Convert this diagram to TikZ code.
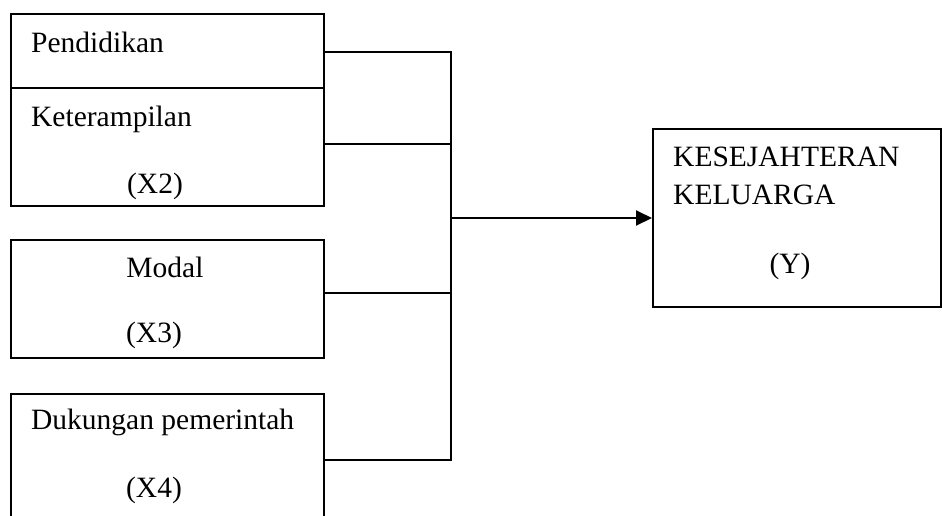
\documentclass[tikz,border=0pt]{standalone}
\usepackage{fontspec}
\setmainfont{Liberation Serif}
\usetikzlibrary{arrows.meta}
\begin{document}
\begin{tikzpicture}[x=1pt,y=-1pt,
  box/.style={draw, line width=2pt, rectangle, inner sep=0pt, anchor=north west},
  lbl/.style={inner sep=0pt, font=\fontsize{29.5}{35}\selectfont},
  wire/.style={line width=2pt},
  arr/.style={wire, -{Triangle[length=16pt,width=15pt]}}]
\useasboundingbox (0,0) rectangle (942,515);
% variable boxes
\node[box, minimum width=313pt, minimum height=74pt]  (pend) at (10,13)  {};
\node[box, minimum width=313pt, minimum height=118pt] (ket)  at (10,87)  {};
\node[box, minimum width=313pt, minimum height=118pt] (mod)  at (10,239) {};
\node[box, minimum width=313pt, minimum height=132pt] (duk)  at (10,393) {};
\node[box, minimum width=288pt, minimum height=178pt] (kes)  at (652,128) {};
% labels
\node[lbl, anchor=base west] (tpend) at (31,52)  {Pendidikan};
\node[lbl, anchor=base west] (tket)  at (31,126) {Keterampilan};
\node[lbl, anchor=base]      (tx2)   at (155,193) {(X2)};
\node[lbl, anchor=base]      (tmod)  at (165,277) {Modal};
\node[lbl, anchor=base]      (tx3)   at (154,342) {(X3)};
\node[lbl, anchor=base west] (tduk)  at (31,429) {Dukungan pemerintah};
\node[lbl, anchor=base]      (tx4)   at (154,497) {(X4)};
\node[lbl, anchor=base west] (tkes)  at (673,166) {KESEJAHTERAN};
\node[lbl, anchor=base west] (tkel)  at (673,204) {KELUARGA};
\node[lbl, anchor=base]      (ty)    at (790,273) {(Y)};
% connectors joined on a common bus
\coordinate (j) at (kes.west -| 451,0);
\draw[wire] ([yshift=-1pt]pend.east) -| (j);
\draw[wire] ([yshift=3pt]ket.east) -| (j);
\draw[wire] ([yshift=6pt]mod.east) -| (j);
\draw[wire] (duk.east) -| (j);
\draw[arr] (j) -- (kes.west);
\end{tikzpicture}
\end{document}
